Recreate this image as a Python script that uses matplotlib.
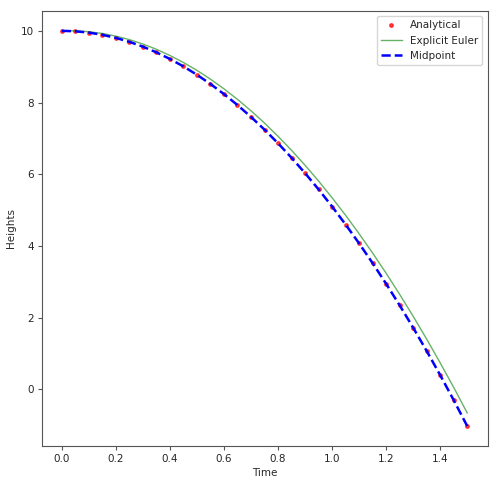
import numpy as np
import matplotlib
matplotlib.use("Agg")
import matplotlib.pyplot as plt

# temps (pas de 0.05 s)
time = [0.00, 0.05, 0.10, 0.15, 0.20, 0.25, 0.30, 0.35, 0.40, 0.45,
        0.50, 0.55, 0.60, 0.65, 0.70, 0.75, 0.80, 0.85, 0.90, 0.95,
        1.00, 1.05, 1.10, 1.15, 1.20, 1.25, 1.30, 1.35, 1.40, 1.45, 1.50]

h_analytical = [10.0, 9.988, 9.951, 9.890, 9.804, 9.694, 9.559, 9.400, 9.216, 9.008,
                8.775, 8.518, 8.236, 7.930, 7.599, 7.244, 6.864, 6.460, 6.031, 5.578,
                5.100, 4.598, 4.071, 3.520, 2.944, 2.344, 1.719, 1.070, 0.396, -0.302,
                -1.025]

h_euler = [10.0, 10.0, 9.976, 9.927, 9.853, 9.755, 9.633, 9.486, 9.314, 9.118,
           8.898, 8.653, 8.383, 8.089, 7.771, 7.428, 7.060, 6.668, 6.252, 5.811,
           5.345, 4.855, 4.341, 3.802, 3.238, 2.650, 2.038, 1.401, 0.739, 0.053,
           -0.658]

h_midpoint = [10.0, 9.988, 9.951, 9.890, 9.804, 9.694, 9.559, 9.400, 9.216, 9.008,
              8.775, 8.518, 8.236, 7.930, 7.599, 7.244, 6.864, 6.460, 6.031, 5.578,
              5.100, 4.598, 4.071, 3.520, 2.944, 2.344, 1.719, 1.070, 0.396, -0.302,
              -1.025]

plt.rcParams['font.size'] = 7.5
plt.rcParams['text.color'] = '#262626'
plt.rcParams['axes.labelcolor'] = '#262626'
plt.rcParams['xtick.labelcolor'] = '#262626'
plt.rcParams['ytick.labelcolor'] = '#262626'

fig = plt.figure(figsize=(5.0, 4.82), dpi=100)
ax = fig.add_axes([0.083, 0.075, 0.892, 0.902])

ax.plot(time, h_analytical, '.', color='red', alpha=0.7, markersize=5, label='Analytical')
ax.plot(time, h_euler, '-', color='green', alpha=0.6, linewidth=1, label='Explicit Euler')
ax.plot(time, h_midpoint, '--', color='blue', linewidth=1.8, label='Midpoint')

ax.tick_params(length=2.8, pad=2.8, color='#555555')
for s in ax.spines.values():
    s.set_color('#555555')

ax.set_xlabel("Time", labelpad=3)
ax.set_ylabel("Heights", labelpad=3)
ax.legend(loc='upper right')

fig.savefig("out.png", dpi=100)
